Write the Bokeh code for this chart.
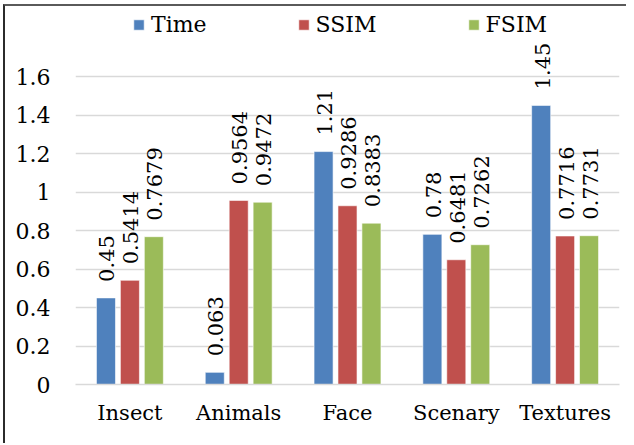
from bokeh.plotting import figure
from bokeh.models import FactorRange, Range1d, FixedTicker, Legend, LegendItem, ColumnDataSource
from bokeh.transform import dodge
from bokeh.core.properties import value
from bokeh.embed import file_html
from bokeh.resources import INLINE
import math

categories = ["Insect", "Animals", "Face", "Scenary", "Textures"]
series_names = ["Time", "SSIM", "FSIM"]
time_vals = [0.45, 0.063, 1.21, 0.78, 1.45]
ssim_vals = [0.5414, 0.9564, 0.9286, 0.6481, 0.7716]
fsim_vals = [0.7679, 0.9472, 0.8383, 0.7262, 0.7731]
y_ticks = [0, 0.2, 0.4, 0.6, 0.8, 1.0, 1.2, 1.4, 1.6]
tick_labels = {0: "0", 0.2: "0.2", 0.4: "0.4", 0.6: "0.6", 0.8: "0.8", 1.0: "1", 1.2: "1.2", 1.4: "1.4", 1.6: "1.6"}

colors = ["#4F81BD", "#C0504D", "#9BBB59"]
offsets = [-0.22, 0.0, 0.22]
FONT = "DejaVu Serif"

src = ColumnDataSource(dict(
    cat=categories,
    Time=time_vals, SSIM=ssim_vals, FSIM=fsim_vals,
    Time_lbl=[str(v) for v in time_vals],
    SSIM_lbl=[str(v) for v in ssim_vals],
    FSIM_lbl=[str(v) for v in fsim_vals],
))

p = figure(width=623, height=439, x_range=FactorRange(*categories, range_padding=0),
           y_range=Range1d(0, 1.943), output_backend="svg", toolbar_location=None,
           min_border_left=70, min_border_right=9, min_border_top=4, min_border_bottom=61)
p.styles = {"margin-left": "3px", "margin-top": "4px",
            "border-left": "2px solid #2b2b2b", "border-top": "2px solid #5a5a5a"}
p.outline_line_color = None
p.background_fill_color = "white"
p.border_fill_color = "white"

renderers = []
for name, col, off in zip(series_names, colors, offsets):
    r = p.vbar(x=dodge("cat", off, range=p.x_range), top=name, width=0.175, bottom=0,
               source=src, fill_color=col, line_color="white", line_width=0.6)
    renderers.append(r)
    p.text(x=dodge("cat", off, range=p.x_range), y=name, text=name + "_lbl", source=src,
           angle=math.pi / 2, text_align="left", text_baseline="middle",
           x_offset=1, y_offset=-16,
           text_font=value(FONT), text_font_size="21px", text_color="black")

p.yaxis.ticker = FixedTicker(ticks=y_ticks)
p.yaxis.major_label_overrides = tick_labels
p.yaxis.axis_line_color = None
p.yaxis.major_tick_line_color = None
p.yaxis.minor_tick_line_color = None
p.yaxis.major_label_text_font = FONT
p.yaxis.major_label_text_font_size = "22px"
p.yaxis.major_label_text_color = "black"
p.yaxis.major_label_standoff = 19

p.xaxis.axis_line_color = "#d9d9d9"
p.xaxis.axis_line_width = 1.5
p.xaxis.major_tick_line_color = None
p.xaxis.minor_tick_line_color = None
p.xaxis.major_label_text_font = FONT
p.xaxis.major_label_text_font_size = "21px"
p.xaxis.major_label_text_color = "black"
p.xaxis.major_label_standoff = 10

p.xgrid.grid_line_color = None
p.ygrid.grid_line_color = "#d9d9d9"
p.ygrid.grid_line_width = 1.5

legend = Legend(items=[LegendItem(label=n, renderers=[r]) for n, r in zip(series_names, renderers)],
                orientation="horizontal", location=(57, 347),
                border_line_color=None, background_fill_alpha=0,
                padding=0, margin=0, spacing=90, label_standoff=6,
                glyph_width=13, glyph_height=13,
                label_text_font=FONT, label_text_font_size="22px", label_text_color="black")
p.add_layout(legend)

open("out.html", "w").write(file_html(p, INLINE))
